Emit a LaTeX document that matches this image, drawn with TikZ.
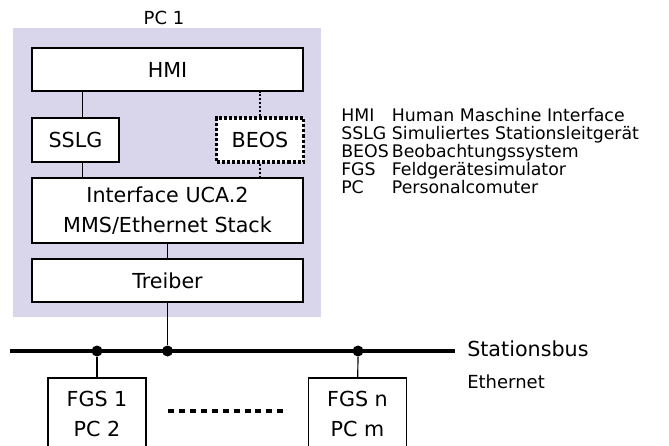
\documentclass[tikz,border=0pt]{standalone}
\usepackage{fontspec}
\setmainfont{DejaVu Sans}
\usepackage{tikz}
\usetikzlibrary{positioning, calc}
\definecolor{pcback}{RGB}{217,213,234}
\tikzset{
  layerbox/.style={
    rectangle, draw=black, line width=0.9pt, fill=white,
    minimum width=271*0.75pt, minimum height=43*0.75pt,
    inner sep=0pt, align=center,
    font=\fontsize{15.5}{22.5}\selectfont
  },
  smallbox/.style={layerbox, minimum width=87*0.75pt, minimum height=44*0.75pt},
  dotbox/.style={smallbox, draw=black, line width=2.3pt,
                 dash pattern=on 2.3pt off 1.5pt},
  fgsbox/.style={layerbox, minimum width=98*0.75pt, minimum height=71*0.75pt},
  junction/.style={circle, fill=black, inner sep=0pt, minimum size=11*0.75pt},
  link/.style={line width=0.9pt},
  dotlink/.style={line width=1.6pt, dash pattern=on 1.6pt off 1.4pt},
  busline/.style={line width=2.6pt},
  more/.style={line width=3.6pt, dash pattern=on 4.5pt off 3.7pt}
}

\begin{document}
\begin{tikzpicture}[x=0.75pt, y=-0.75pt]

  \useasboundingbox (0,0) rectangle (669,446);

  % PC 1 backdrop
  \fill[pcback] (13,28) rectangle (321,317);
  \node[font=\fontsize{13.5}{16}\selectfont] (pclabel) at (164,18) {PC 1};

  \node[layerbox] (hmi)     at (167.5,69.5)  {HMI};
  \node[smallbox] (sslg)    at (75.5,140)    {SSLG};
  \node[dotbox]   (beos)    at (260,140)     {BEOS};
  \node[layerbox, minimum height=65*0.75pt] (iface) at (167.5,210.5)
        {Interface UCA.2\\MMS/Ethernet Stack};
  \node[layerbox] (treiber) at (167.5,280.5) {Treiber};

  % Stationsbus
  \coordinate (busL) at (10,351);
  \coordinate (busR) at (455,351);
  \draw[busline] (busL) -- (busR);
  \node[junction] (j1) at (97,351)    {};
  \node[junction] (j2) at (167.5,351) {};
  \node[junction] (j3) at (358,351)   {};

  \node[anchor=west, inner sep=0pt, font=\fontsize{15.5}{18}\selectfont]
        (bus) at (467,349) {Stationsbus};
  \node[anchor=west, inner sep=0pt, font=\fontsize{13.5}{16}\selectfont]
        (eth) at (467,382) {Ethernet};

  \node[fgsbox] (fgs1) at (97,413.5)    {FGS 1\\PC 2};
  \node[fgsbox] (fgsn) at (357.5,413.5) {FGS n\\PC m};

  \coordinate (moreL) at (168,411);
  \coordinate (moreR) at (288,411);
  \draw[more] (moreL) -- (moreR);

  % legend
  \node[anchor=base west, inner sep=0pt, font=\fontsize{13}{12.6}\selectfont]
        (legend) at (341,121)
        {\begin{tabular}[t]{@{}p{38pt}@{}l@{}}
           HMI  & Human Maschine Interface\\
           SSLG & Simuliertes Stationsleitgerät\\
           BEOS & Beobachtungssystem\\
           FGS  & Feldgerätesimulator\\
           PC   & Personalcomuter
         \end{tabular}};

  \draw[link] ([xshift=5.5]sslg.north) -- ([xshift=5.5]sslg.north |- hmi.south);
  \draw[link] ([xshift=5.5]sslg.south) -- ([xshift=5.5]sslg.south |- iface.north);
  \draw[dotlink] (beos.north) -- (beos.north |- hmi.south);
  \draw[dotlink] (beos.south) -- (beos.south |- iface.north);
  \draw[link] (iface)   -- (treiber);
  \draw[link] (treiber) -- (j2);
  \draw[link] (j1) -- (fgs1);
  \draw[link] (j3) -- (fgsn);

\end{tikzpicture}
\end{document}
